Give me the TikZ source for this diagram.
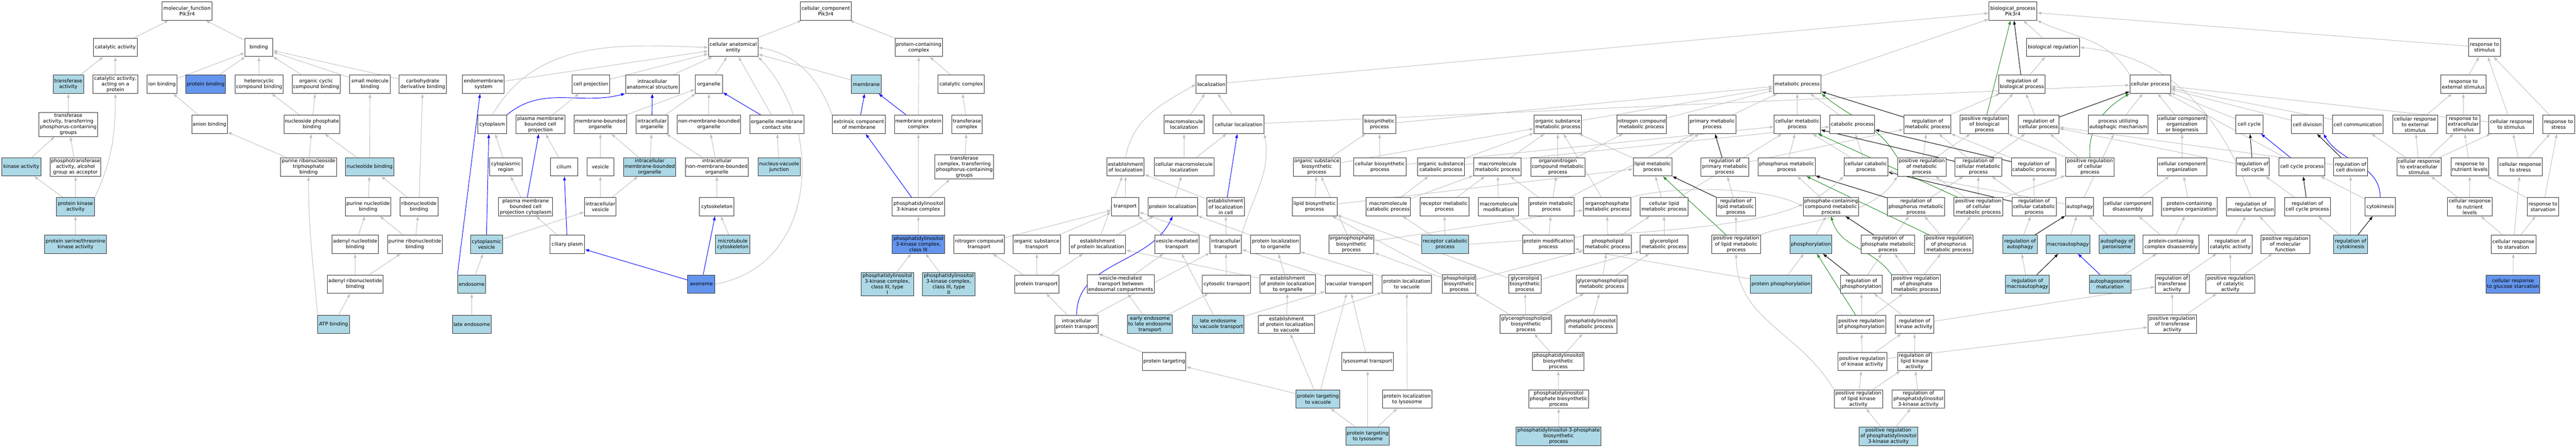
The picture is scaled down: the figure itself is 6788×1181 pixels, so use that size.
\documentclass[tikz,border=0pt]{standalone}
\usepackage{fontspec}
\setmainfont{DejaVu Sans}
\usetikzlibrary{arrows.meta}
\pgfdeclarelayer{edges}
\pgfsetlayers{edges,main}
\definecolor{hitblue}{HTML}{ADD8E6}
\definecolor{seedblue}{HTML}{6495ED}
\definecolor{isagray}{HTML}{C0C0C0}
\definecolor{posgreen}{HTML}{228B22}
\tikzset{
  term/.style={draw=black!80,line width=1.3pt,fill=white,align=center,minimum height=48,inner xsep=2pt,inner ysep=3pt,font=\fontsize{13}{15}\selectfont},
  hit/.style={term,fill=hitblue},
  seed/.style={term,fill=seedblue},
  isa/.style={draw=isagray,line width=1.3pt,-{Latex[length=11pt,width=8pt]}},
  part/.style={isa,draw=blue},
  reg/.style={isa,draw=black},
  posreg/.style={isa,draw=posgreen}
}
\begin{document}
\begin{tikzpicture}[x=1pt,y=-1pt]
		\useasboundingbox (0,0) rectangle (6788,1181);
		%Molecular function
		\node[term,minimum width=131] (mf) at (493,29) {molecular\_function\\Pik3r4};
		\node[term,minimum width=116] (catact) at (304,125) {catalytic activity};
		\node[term,minimum width=73] (bind) at (682,125) {binding};
		\node[hit,minimum width=80] (transf) at (180,222) {transferase\\activity};
		\node[term,minimum width=118] (catprot) at (304,222) {catalytic activity,\\acting on a\\protein};
		\node[term,minimum width=79] (ionb) at (427,222) {ion binding};
		\node[seed,minimum width=105] (protb) at (542,222) {protein binding};
		\node[term,minimum width=126] (hetb) at (683,222) {heterocyclic\\compound binding};
		\node[term,minimum width=126] (orgcb) at (833,222) {organic cyclic\\compound binding};
		\node[term,minimum width=107] (smb) at (975,222) {small molecule\\binding};
		\node[term,minimum width=124] (carbb) at (1114,222) {carbohydrate\\derivative binding};
		\node[term,minimum width=154] (trphos) at (180,328) {transferase\\activity, transferring\\phosphorus-containing\\groups};
		\node[term,minimum width=94] (anionb) at (552,328) {anion binding};
		\node[term,minimum width=147] (nucphb) at (822,328) {nucleoside phosphate\\binding};
		\node[hit,minimum width=103] (kinact) at (56,440) {kinase activity};
		\node[term,minimum width=133] (phtrans) at (199,440) {phosphotransferase\\activity, alcohol\\group as acceptor};
		\node[term,minimum width=147] (prntb) at (813,440) {purine ribonucleoside\\triphosphate\\binding};
		\node[hit,minimum width=127] (nucb) at (974,440) {nucleotide binding};
		\node[hit,minimum width=100] (pkin) at (199,545) {protein kinase\\activity};
		\node[term,minimum width=119] (purnb) at (970,545) {purine nucleotide\\binding};
		\node[term,minimum width=100] (ribnb) at (1104,545) {ribonucleotide\\binding};
		\node[hit,minimum width=163] (pstk) at (199,644) {protein serine/threonine\\kinase activity};
		\node[term,minimum width=123] (adnb) at (936,644) {adenyl nucleotide\\binding};
		\node[term,minimum width=144] (purrnb) at (1093,644) {purine ribonucleotide\\binding};
		\node[term,minimum width=147] (adrnb) at (936,749) {adenyl ribonucleotide\\binding};
		\node[hit,minimum width=83] (atpb) at (879,855) {ATP binding};
		
		%Cellular component
		\node[term,minimum width=135] (cc) at (2176,29) {cellular\_component\\Pik3r4};
		\node[term,minimum width=130] (cae) at (1932,125) {cellular anatomical\\entity};
		\node[term,minimum width=125] (pcc) at (2421,125) {protein-containing\\complex};
		\node[term,minimum width=110] (endo) at (1274,222) {endomembrane\\system};
		\node[term,minimum width=99] (cproj) at (1557,222) {cell projection};
		\node[term,minimum width=141] (ias) at (1719,222) {intracellular\\anatomical structure};
		\node[term,minimum width=72] (organelle) at (1868,222) {organelle};
		\node[hit,minimum width=78] (membrane) at (2283,222) {membrane};
		\node[term,minimum width=122] (catcx) at (2533,222) {catalytic complex};
		\node[term,minimum width=75] (cytopl) at (1297,328) {cytoplasm};
		\node[term,minimum width=128] (pmbcp) at (1424,328) {plasma membrane\\bounded cell\\projection};
		\node[term,minimum width=139] (mbo) at (1582,328) {membrane-bounded\\organelle};
		\node[term,minimum width=84] (iorg) at (1718,328) {intracellular\\organelle};
		\node[term,minimum width=166] (nmbo) at (1868,328) {non-membrane-bounded\\organelle};
		\node[term,minimum width=142] (omcs) at (2047,328) {organelle membrane\\contact site};
		\node[term,minimum width=139] (extm) at (2263,328) {extrinsic component\\of membrane};
		\node[term,minimum width=126] (mpcx) at (2420,328) {membrane protein\\complex};
		\node[term,minimum width=81] (trcx) at (2548,328) {transferase\\complex};
		\node[term,minimum width=85] (cytreg) at (1333,440) {cytoplasmic\\region};
		\node[term,minimum width=72] (cilium) at (1486,440) {cilium};
		\node[term,minimum width=71] (vesicle) at (1582,440) {vesicle};
		\node[hit,minimum width=138] (imbo) at (1712,440) {intracellular\\membrane-bounded\\organelle};
		\node[term,minimum width=166] (inmbo) at (1889,440) {intracellular\\non-membrane-bounded\\organelle};
		\node[hit,minimum width=111] (nvj) at (2053,440) {nucleus-vacuole\\junction};
		\node[term,minimum width=155] (trcxp) at (2541,440) {transferase\\complex, transferring\\phosphorus-containing\\groups};
		\node[term,minimum width=142] (pmbcpc) at (1385,545) {plasma membrane\\bounded cell\\projection cytoplasm};
		\node[term,minimum width=83] (ivesicle) at (1582,545) {intracellular\\vesicle};
		\node[term,minimum width=91] (cytosk) at (1889,545) {cytoskeleton};
		\node[term,minimum width=139] (pi3kcx) at (2420,545) {phosphatidylinositol\\3-kinase complex};
		\node[hit,minimum width=85] (cytves) at (1282,644) {cytoplasmic\\vesicle};
		\node[term,minimum width=91] (cilplasm) at (1495,644) {ciliary plasm};
		\node[hit,minimum width=91] (mtcytosk) at (1931,644) {microtubule\\cytoskeleton};
		\node[seed,minimum width=139] (pi3kc3) at (2420,644) {phosphatidylinositol\\3-kinase complex,\\class III};
		\node[hit,minimum width=74] (endosome) at (1243,749) {endosome};
		\node[seed,minimum width=72] (axoneme) at (1848,749) {axoneme};
		\node[hit,minimum width=139] (pi3kc3a) at (2338,749) {phosphatidylinositol\\3-kinase complex,\\class III, type\\I};
		\node[hit,minimum width=139] (pi3kc3b) at (2500,749) {phosphatidylinositol\\3-kinase complex,\\class III, type\\II};
		\node[hit,minimum width=102] (lateendo) at (1243,855) {late endosome};
		
		%Biological process: top
		\node[term,minimum width=126] (bp) at (5304,29) {biological\_process\\Pik3r4};
		\node[term,minimum width=139] (bioreg) at (5410,125) {biological regulation};
		\node[term,minimum width=83] (rstim) at (6547,125) {response to\\stimulus};
		\node[term,minimum width=80] (loc) at (3192,222) {localization};
		\node[term,minimum width=126] (metab) at (4736,222) {metabolic process};
		\node[term,minimum width=122] (regbp) at (5328,222) {regulation of\\biological process};
		\node[term,minimum width=107] (cellproc) at (5666,222) {cellular process};
		\node[term,minimum width=120] (rext) at (6491,222) {response to\\external stimulus};
		
		%Biological process: row 4
		\node[term,minimum width=106] (mloc) at (3120,328) {macromolecule\\localization};
		\node[term,minimum width=134] (cloc) at (3264,328) {cellular localization};
		\node[term,minimum width=87] (biosyn) at (3635,328) {biosynthetic\\process};
		\node[term,minimum width=125] (osmp) at (4105,328) {organic substance\\metabolic process};
		\node[term,minimum width=131] (ncmp) at (4326,328) {nitrogen compound\\metabolic process};
		\node[term,minimum width=126] (primp) at (4512,328) {primary metabolic\\process};
		\node[term,minimum width=122] (cmp) at (4736,328) {cellular metabolic\\process};
		\node[term,minimum width=118] (catab) at (4881,328) {catabolic process};
		\node[term,minimum width=124] (regmp) at (5079,328) {regulation of\\metabolic process};
		\node[term,minimum width=128] (posregbp) at (5229,328) {positive regulation\\of biological\\process};
		\node[term,minimum width=107] (regcp) at (5372,328) {regulation of\\cellular process};
		\node[term,minimum width=158] (puam) at (5582,328) {process utilizing\\autophagic mechanism};
		\node[term,minimum width=131] (ccob) at (5750,328) {cellular component\\organization\\or biogenesis};
		\node[term,minimum width=72] (ccycle) at (5927,328) {cell cycle};
		\node[term,minimum width=84] (cdiv) at (6080,328) {cell division};
		\node[term,minimum width=134] (ccomm) at (6213,328) {cell communication};
		\node[term,minimum width=118] (crext) at (6364,328) {cellular response\\to external\\stimulus};
		\node[term,minimum width=88] (rexc) at (6491,328) {response to\\extracellular\\stimulus};
		\node[term,minimum width=119] (crstim) at (6617,328) {cellular response\\to stimulus};
		\node[term,minimum width=84] (rstress) at (6742,328) {response to\\stress};
		
		%Biological process: row 5
		\node[term,minimum width=98] (estloc) at (2966,440) {establishment\\of localization};
		\node[term,minimum width=158] (cmloc) at (3120,440) {cellular macromolecule\\localization};
		\node[term,minimum width=124] (osbp) at (3470,440) {organic substance\\biosynthetic\\process};
		\node[term,minimum width=138] (cbp) at (3636,440) {cellular biosynthetic\\process};
		\node[term,minimum width=124] (oscp) at (3797,440) {organic substance\\catabolic process};
		\node[term,minimum width=125] (mmp) at (3946,440) {macromolecule\\metabolic process};
		\node[term,minimum width=143] (oncmp) at (4105,440) {organonitrogen\\compound metabolic\\process};
		\node[term,minimum width=102] (lmp) at (4355,440) {lipid metabolic\\process};
		\node[term,minimum width=126] (regprimp) at (4545,440) {regulation of\\primary metabolic\\process};
		\node[term,minimum width=150] (phosmp) at (4708,440) {phosphorus metabolic\\process};
		\node[term,minimum width=116] (ccatp) at (4917,440) {cellular catabolic\\process};
		\node[term,minimum width=128] (posregmp) at (5064,440) {positive regulation\\of metabolic\\process};
		\node[term,minimum width=123] (regcmp) at (5213,440) {regulation of\\cellular metabolic\\process};
		\node[term,minimum width=118] (regcatp) at (5359,440) {regulation of\\catabolic process};
		\node[term,minimum width=128] (posregcp) at (5507,440) {positive regulation\\of cellular\\process};
		\node[term,minimum width=131] (cco) at (5750,440) {cellular component\\organization};
		\node[term,minimum width=88] (regccycle) at (5936,440) {regulation of\\cell cycle};
		\node[term,minimum width=121] (ccyclep) at (6066,440) {cell cycle process};
		\node[term,minimum width=89] (regcdiv) at (6194,440) {regulation of\\cell division};
		\node[term,minimum width=117] (crexc) at (6374,440) {cellular response\\to extracellular\\stimulus};
		\node[term,minimum width=100] (rnut) at (6508,440) {response to\\nutrient levels};
		\node[term,minimum width=117] (crstress) at (6641,440) {cellular response\\to stress};
		
		%Biological process: row 6
		\node[term,minimum width=72] (transport) at (2965,545) {transport};
		\node[term,minimum width=130] (ploc) at (3090,545) {protein localization};
		\node[term,minimum width=99] (estlocc) at (3230,545) {establishment\\of localization\\in cell};
		\node[term,minimum width=118] (lbp) at (3464,545) {lipid biosynthetic\\process};
		\node[term,minimum width=117] (mcatp) at (3658,545) {macromolecule\\catabolic process};
		\node[term,minimum width=129] (recmp) at (3806,545) {receptor metabolic\\process};
		\node[term,minimum width=106] (mmod) at (3949,545) {macromolecule\\modification};
		\node[term,minimum width=120] (protmp) at (4088,545) {protein metabolic\\process};
		\node[term,minimum width=125] (opmp) at (4235,545) {organophosphate\\metabolic process};
		\node[term,minimum width=125] (clmp) at (4385,545) {cellular lipid\\metabolic process};
		\node[term,minimum width=103] (reglmp) at (4574,545) {regulation of\\lipid metabolic\\process};
		\node[term,minimum width=146] (pcmp) at (4825,545) {phosphate-containing\\compound metabolic\\process};
		\node[term,minimum width=150] (regphosmp) at (5049,545) {regulation of\\phosphorus metabolic\\process};
		\node[term,minimum width=129] (posregcmp) at (5213,545) {positive regulation\\of cellular\\metabolic process};
		\node[term,minimum width=117] (regccatp) at (5360,545) {regulation of\\cellular catabolic\\process};
		\node[term,minimum width=74] (autophagy) at (5480,545) {autophagy};
		\node[term,minimum width=130] (ccdis) at (5607,545) {cellular component\\disassembly};
		\node[term,minimum width=147] (pcxorg) at (5769,545) {protein-containing\\complex organization};
		\node[term,minimum width=128] (regmf) at (5931,545) {regulation of\\molecular function};
		\node[term,minimum width=121] (regccp) at (6080,545) {regulation of\\cell cycle process};
		\node[term,minimum width=79] (cytokin) at (6272,545) {cytokinesis};
		\node[term,minimum width=118] (crnut) at (6508,545) {cellular response\\to nutrient\\levels};
		\node[term,minimum width=83] (rstarv) at (6701,545) {response to\\starvation};
		
		%Biological process: row 7
		\node[term,minimum width=132] (nctr) at (2580,644) {nitrogen compound\\transport};
		\node[term,minimum width=124] (ostr) at (2732,644) {organic substance\\transport};
		\node[term,minimum width=148] (estploc) at (2892,644) {establishment\\of protein localization};
		\node[term,minimum width=117] (vmt) at (3101,644) {vesicle-mediated\\transport};
		\node[term,minimum width=83] (ictr) at (3230,644) {intracellular\\transport};
		\node[term,minimum width=130] (plocorg) at (3361,644) {protein localization\\to organelle};
		\node[term,minimum width=119] (opbp) at (3561,644) {organophosphate\\biosynthetic\\process};
		\node[hit,minimum width=124] (reccatp) at (3808,644) {receptor catabolic\\process};
		\node[term,minimum width=136] (pmodp) at (4080,644) {protein modification\\process};
		\node[term,minimum width=126] (plmp) at (4236,644) {phospholipid\\metabolic process};
		\node[term,minimum width=125] (glmp) at (4385,644) {glycerolipid\\metabolic process};
		\node[term,minimum width=128] (posreglmp) at (4575,644) {positive regulation\\of lipid metabolic\\process};
		\node[hit,minimum width=110] (phosph) at (4772,644) {phosphorylation};
		\node[term,minimum width=142] (regphmp) at (4975,644) {regulation of\\phosphate metabolic\\process};
		\node[term,minimum width=128] (posregphosmp) at (5135,644) {positive regulation\\of phosphorus\\metabolic process};
		\node[hit,minimum width=90] (regaut) at (5323,644) {regulation of\\autophagy};
		\node[hit,minimum width=116] (macroaut) at (5449,644) {macroautophagy};
		\node[hit,minimum width=93] (autperox) at (5578,644) {autophagy of\\peroxisome};
		\node[term,minimum width=147] (pcxdis) at (5721,644) {protein-containing\\complex disassembly};
		\node[term,minimum width=115] (regcatact) at (5877,644) {regulation of\\catalytic activity};
		\node[term,minimum width=129] (posregmf) at (6022,644) {positive regulation\\of molecular\\function};
		\node[hit,minimum width=89] (regcytok) at (6194,644) {regulation of\\cytokinesis};
		\node[term,minimum width=118] (crstarv) at (6623,644) {cellular response\\to starvation};
		
		%Biological process: row 8
		\node[term,minimum width=116] (prtr) at (2732,749) {protein transport};
		\node[term,minimum width=177] (vmtendo) at (2953,749) {vesicle-mediated\\transport between\\endosomal compartments};
		\node[term,minimum width=127] (cytotr) at (3232,749) {cytosolic transport};
		\node[term,minimum width=147] (estplocorg) at (3393,749) {establishment\\of protein localization\\to organelle};
		\node[term,minimum width=125] (vactr) at (3555,749) {vacuolar transport};
		\node[term,minimum width=130] (plocvac) at (3707,749) {protein localization\\to vacuole};
		\node[term,minimum width=88] (plbp) at (3845,749) {phospholipid\\biosynthetic\\process};
		\node[term,minimum width=86] (glbp) at (4018,749) {glycerolipid\\biosynthetic\\process};
		\node[term,minimum width=136] (gplmp) at (4221,749) {glycerophospholipid\\metabolic process};
		\node[hit,minimum width=162] (protphos) at (4693,749) {protein phosphorylation};
		\node[term,minimum width=111] (regphos) at (4905,749) {regulation of\\phosphorylation};
		\node[term,minimum width=128] (posregphmp) at (5049,749) {positive regulation\\of phosphate\\metabolic process};
		\node[hit,minimum width=115] (regmacro) at (5342,749) {regulation of\\macroautophagy};
		\node[hit,minimum width=110] (autmat) at (5560,749) {autophagosome\\maturation};
		\node[term,minimum width=89] (regtrans) at (5724,749) {regulation of\\transferase\\activity};
		\node[term,minimum width=128] (posregcatact) at (5877,749) {positive regulation\\of catalytic\\activity};
		\node[seed,minimum width=141] (crglu) at (6622,749) {cellular response\\to glucose starvation};
		
		%Biological process: rows 9-12
		\node[term,minimum width=114] (icptr) at (2837,855) {intracellular\\protein transport};
		\node[hit,minimum width=119] (eelet) at (3030,855) {early endosome\\to late endosome\\transport};
		\node[hit,minimum width=137] (letvt) at (3210,855) {late endosome\\to vacuole transport};
		\node[term,minimum width=147] (estplocvac) at (3390,855) {establishment\\of protein localization\\to vacuole};
		\node[term,minimum width=136] (gplbp) at (4021,855) {glycerophospholipid\\biosynthetic\\process};
		\node[term,minimum width=138] (pimp) at (4192,855) {phosphatidylinositol\\metabolic process};
		\node[term,minimum width=129] (posregphos) at (4905,855) {positive regulation\\of phosphorylation};
		\node[term,minimum width=102] (regkin) at (5045,855) {regulation of\\kinase activity};
		\node[term,minimum width=128] (posregtrans) at (5724,855) {positive regulation\\of transferase\\activity};
		\node[term,minimum width=114] (ptarg) at (3068,953) {protein targeting};
		\node[term,minimum width=136] (lystr) at (3604,953) {lysosomal transport};
		\node[term,minimum width=137] (pibp) at (4106,953) {phosphatidylinositol\\biosynthetic\\process};
		\node[term,minimum width=129] (posregkin) at (4907,953) {positive regulation\\of kinase activity};
		\node[term,minimum width=90] (reglkin) at (5045,953) {regulation of\\lipid kinase\\activity};
		\node[hit,minimum width=115] (ptargvac) at (3473,1052) {protein targeting\\to vacuole};
		\node[term,minimum width=131] (ploclys) at (3708,1052) {protein localization\\to lysosome};
		\node[term,minimum width=158] (pipbp) at (4107,1052) {phosphatidylinositol\\phosphate biosynthetic\\process};
		\node[term,minimum width=128] (posreglkin) at (4897,1052) {positive regulation\\of lipid kinase\\activity};
		\node[term,minimum width=139] (regpi3k) at (5055,1052) {regulation of\\phosphatidylinositol\\3-kinase activity};
		\node[hit,minimum width=114] (ptarglys) at (3604,1150) {protein targeting\\to lysosome};
		\node[hit,minimum width=224] (pi3pbp) at (4107,1150) {phosphatidylinositol-3-phosphate\\biosynthetic\\process};
		\node[hit,minimum width=155] (posregpi3k) at (4976,1150) {positive regulation\\of phosphatidylinositol\\3-kinase activity};
		
		\begin{pgfonlayer}{edges}
		\fill[white] (0,0) rectangle (6788,1181);
		%Molecular function edges
		\draw[isa] (catact) -- (mf);
		\draw[isa] (bind) -- (mf);
		\draw[isa] (transf) -- (catact);
		\draw[isa] (catprot) -- (catact);
		\draw[isa] (ionb) -- (bind);
		\draw[isa] (protb) -- (bind);
		\draw[isa] (hetb) -- (bind);
		\draw[isa] (orgcb) -- (bind);
		\draw[isa] (smb) -- (bind);
		\draw[isa] (carbb) -- (bind);
		\draw[isa] (trphos) -- (transf);
		\draw[isa] (anionb) -- (ionb);
		\draw[isa] (nucphb) -- (hetb);
		\draw[isa] (nucphb) -- (orgcb);
		\draw[isa] (kinact) -- (trphos);
		\draw[isa] (phtrans) -- (trphos);
		\draw[isa] (prntb) -- (anionb);
		\draw[isa] (prntb) -- (nucphb);
		\draw[isa] (nucb) -- (nucphb);
		\draw[isa] (nucb) -- (smb);
		\draw[isa] (pkin) -- (kinact);
		\draw[isa] (pkin) -- (phtrans);
		\draw[isa] (pkin.north east) to [out=65, in=270] (catprot.south);
		\draw[isa] (purnb) -- (nucb);
		\draw[isa] (ribnb) -- (nucb);
		\draw[isa] (ribnb) -- (carbb);
		\draw[isa] (pstk) -- (pkin);
		\draw[isa] (adnb) -- (purnb);
		\draw[isa] (purrnb) -- (purnb);
		\draw[isa] (purrnb) -- (ribnb);
		\draw[isa] (adrnb) -- (adnb);
		\draw[isa] (adrnb) -- (purrnb);
		\draw[isa] (atpb) -- (adrnb);
		\draw[isa] (atpb.north west) to [out=95, in=270] (prntb.south);
		
		%Cellular component edges
		\draw[isa] (cae) -- (cc);
		\draw[isa] (pcc) -- (cc);
		\draw[isa] (endo) -- (cae);
		\draw[isa] (cytopl.north) to [out=60, in=178] (cae.west);
		\draw[isa] (cproj) -- (cae);
		\draw[isa] (ias) -- (cae);
		\draw[isa] (organelle) -- (cae);
		\draw[isa] (omcs) -- (cae);
		\draw[isa] (membrane) -- (cae);
		\draw[isa] (extm.north west) to [out=110, in=-10] (cae.east);
		\draw[isa] (axoneme.east) .. controls (2160,700) and (2170,330) .. (cae.south east);
		\draw[isa] (catcx) -- (pcc);
		\draw[isa] (mpcx) -- (pcc);
		\draw[part] (mpcx) -- (membrane);
		\draw[part] (extm) -- (membrane);
		\draw[isa] (trcx) -- (catcx);
		\draw[isa] (trcxp) -- (trcx);
		\draw[part] (pi3kcx) -- (extm);
		\draw[isa] (pi3kcx) -- (mpcx);
		\draw[isa] (pi3kcx) -- (trcxp);
		\draw[isa] (pi3kc3) -- (pi3kcx);
		\draw[isa] (pi3kc3a) -- (pi3kc3);
		\draw[isa] (pi3kc3b) -- (pi3kc3);
		\draw[part] (cytopl.north east) to [out=40, in=195] (ias.south west);
		\draw[isa] (pmbcp) -- (cproj);
		\draw[isa] (mbo) -- (organelle);
		\draw[part] (iorg) -- (ias);
		\draw[isa] (iorg) -- (organelle);
		\draw[isa] (nmbo) -- (organelle);
		\draw[part] (omcs) -- (organelle);
		\draw[isa] (cytreg) -- (cytopl);
		\draw[isa] (cilium) -- (pmbcp);
		\draw[isa] (vesicle) -- (mbo);
		\draw[isa] (imbo) -- (mbo);
		\draw[isa] (imbo) -- (iorg);
		\draw[isa] (inmbo) -- (iorg);
		\draw[isa] (inmbo) -- (nmbo);
		\draw[isa] (nvj) -- (omcs);
		\draw[isa] (pmbcpc) -- (cytreg);
		\draw[part] (pmbcpc) -- (pmbcp);
		\draw[isa] (ivesicle) -- (vesicle);
		\draw[isa] (ivesicle) -- (imbo);
		\draw[isa] (cytosk) -- (inmbo);
		\draw[part] (cytves.north) -- (cytopl.250);
		\draw[isa] (cytves) -- (ivesicle);
		\draw[isa] (cilplasm) -- (pmbcpc);
		\draw[part] (cilplasm) -- (cilium);
		\draw[isa] (mtcytosk) -- (cytosk);
		\draw[part] (endosome.north west) -- (endo.250);
		\draw[isa] (endosome) -- (cytves);
		\draw[part] (axoneme) -- (cilplasm);
		\draw[part] (axoneme) -- (cytosk);
		\draw[isa] (lateendo) -- (endosome);
		
		%Localization and transport edges
		\draw[isa] (loc) -- (bp);
		\draw[isa] (mloc) -- (loc);
		\draw[isa] (cloc) -- (loc);
		\draw[isa] (cloc) -- (cellproc);
		\draw[isa] (estloc.north) to [out=80, in=210] (loc.west);
		\draw[isa] (cmloc) -- (mloc);
		\draw[isa] (cmloc) -- (cloc);
		\draw[part] (estlocc) -- (cloc);
		\draw[isa] (estlocc) -- (estloc);
		\draw[isa] (transport) -- (estloc);
		\draw[isa] (ploc) -- (cmloc);
		\draw[isa] (estploc) -- (estloc);
		\draw[isa] (estploc) -- (ploc);
		\draw[isa] (nctr) -- (transport);
		\draw[isa] (ostr) -- (transport);
		\draw[isa] (vmt) -- (transport);
		\draw[isa] (ictr) -- (transport);
		\draw[isa] (ictr) -- (estlocc);
		\draw[isa] (ictr.north east) to [out=75, in=-80] (cloc.south east);
		\draw[isa] (plocorg) -- (ploc);
		\draw[isa] (estplocorg) -- (estploc);
		\draw[isa] (estplocorg) -- (plocorg);
		\draw[isa] (vmtendo) -- (vmt);
		\draw[isa] (prtr) -- (nctr);
		\draw[isa] (prtr) -- (ostr);
		\draw[isa] (prtr) -- (estploc);
		\draw[isa] (cytotr) -- (ictr);
		\draw[isa] (vactr) -- (ictr);
		\draw[isa] (plocvac) -- (plocorg);
		\draw[isa] (icptr) -- (prtr);
		\draw[part] (icptr.north) to [out=90, in=-115] (ploc.south);
		\draw[isa] (icptr) -- (ictr);
		\draw[isa] (eelet) -- (vmtendo);
		\draw[isa] (eelet) -- (cytotr);
		\draw[isa] (letvt) -- (vmt);
		\draw[isa] (letvt) -- (vactr);
		\draw[isa] (estplocvac) -- (estplocorg);
		\draw[isa] (estplocvac) -- (plocvac);
		\draw[isa] (ptarg) -- (icptr);
		\draw[isa] (ptargvac) -- (ptarg);
		\draw[isa] (ptargvac) -- (estplocvac);
		\draw[isa] (ptargvac) -- (vactr);
		\draw[isa] (lystr) -- (vactr);
		\draw[isa] (ploclys) -- (plocvac);
		\draw[isa] (ptarglys) -- (ptargvac);
		\draw[isa] (ptarglys) -- (lystr);
		\draw[isa] (ptarglys) -- (ploclys);
		
		%Metabolism edges
		\draw[isa] (biosyn) -- (metab);
		\draw[isa] (osmp) -- (metab);
		\draw[isa] (ncmp) -- (metab);
		\draw[isa] (primp) -- (metab);
		\draw[isa] (cmp) -- (metab);
		\draw[isa] (catab) -- (metab);
		\draw[isa] (metab) -- (bp);
		\draw[isa] (osbp) -- (biosyn);
		\draw[isa] (osbp) -- (osmp);
		\draw[isa] (cbp) -- (biosyn);
		\draw[isa] (cbp) -- (cmp);
		\draw[isa] (oscp) -- (osmp);
		\draw[isa] (oscp) -- (catab);
		\draw[isa] (mmp) -- (osmp);
		\draw[isa] (oncmp) -- (osmp);
		\draw[isa] (oncmp) -- (ncmp);
		\draw[isa] (lmp) -- (osmp);
		\draw[isa] (lmp) -- (primp);
		\draw[reg] (regprimp) -- (primp);
		\draw[isa] (regprimp) -- (regmp);
		\draw[isa] (lbp) -- (osbp);
		\draw[isa] (lbp) -- (lmp);
		\draw[isa] (mcatp) -- (oscp);
		\draw[isa] (mcatp) -- (mmp);
		\draw[isa] (recmp) -- (mmp);
		\draw[isa] (mmod) -- (mmp);
		\draw[isa] (protmp) -- (mmp);
		\draw[isa] (protmp) -- (oncmp);
		\draw[isa] (protmp) -- (primp);
		\draw[isa] (opmp) -- (osmp);
		\draw[isa] (opmp.north east) .. controls (4400,490) and (4650,490) .. (pcmp.west);
		\draw[isa] (clmp) -- (lmp);
		\draw[isa] (clmp) -- (cmp);
		\draw[reg] (reglmp) -- (lmp);
		\draw[isa] (reglmp) -- (regprimp);
		\draw[posreg] (posreglmp) -- (lmp);
		\draw[isa] (posreglmp) -- (reglmp);
		\draw[isa] (posreglmp.north east) .. controls (4700,590) and (4930,580) .. (posregmp.south west);
		\draw[isa] (phosmp) -- (cmp);
		\draw[isa] (ccatp) -- (catab);
		\draw[isa] (ccatp) -- (cmp);
		\draw[posreg] (posregmp.north west) to [out=120, in=-40] (metab.south east);
		\draw[isa] (posregmp) -- (regmp);
		\draw[isa] (posregmp) -- (posregbp);
		\draw[reg] (regcmp) -- (cmp);
		\draw[isa] (regcmp) -- (regmp);
		\draw[isa] (regcmp) -- (regcp);
		\draw[reg] (regcatp) -- (catab);
		\draw[isa] (regcatp) -- (regmp);
		\draw[posreg] (posregcp.north) to [out=95, in=-150] (cellproc.south west);
		\draw[isa] (posregcp) -- (regcp);
		\draw[isa] (posregcp) -- (posregbp);
		\draw[isa] (pcmp) -- (phosmp);
		\draw[reg] (regphosmp) -- (phosmp);
		\draw[isa] (regphosmp) -- (regcmp);
		\draw[posreg] (posregcmp) -- (cmp);
		\draw[isa] (posregcmp) -- (regcmp);
		\draw[isa] (posregcmp) -- (posregmp);
		\draw[isa] (posregcmp) -- (posregcp);
		\draw[isa] (regccatp) -- (regcatp);
		\draw[isa] (regccatp) -- (regcmp);
		\draw[reg] (regccatp) -- (ccatp);
		\draw[isa] (autophagy) -- (ccatp);
		\draw[isa] (autophagy) -- (puam);
		\draw[reg] (regmp) -- (metab);
		\draw[isa] (regmp) -- (regbp);
		\draw[reg] (regcp) -- (cellproc);
		\draw[isa] (regcp) -- (regbp);
		\draw[posreg] (posregbp) -- (bp);
		\draw[isa] (posregbp) -- (regbp);
		\draw[reg] (regbp) -- (bp);
		\draw[isa] (regbp) -- (bioreg);
		\draw[isa] (bioreg) -- (bp);
		\draw[isa] (cellproc.north west) to [out=120, in=-25] (bp.south east);
		\draw[isa] (puam) -- (cellproc);
		\draw[isa] (rstim) -- (bp);
		
		%Lipid edges
		\draw[isa] (pmodp) -- (mmod);
		\draw[isa] (pmodp) -- (protmp);
		\draw[isa] (plmp) -- (opmp);
		\draw[isa] (plmp) -- (clmp);
		\draw[isa] (glmp) -- (clmp);
		\draw[isa] (opbp) -- (opmp);
		\draw[isa] (opbp) -- (osbp);
		\draw[isa] (reccatp) -- (recmp);
		\draw[isa] (reccatp) -- (mcatp);
		\draw[isa] (reccatp.east) .. controls (4500,600) and (4720,600) .. (ccatp.south west);
		\draw[isa] (plbp) -- (plmp);
		\draw[isa] (plbp) -- (opbp);
		\draw[isa] (plbp) -- (lbp);
		\draw[isa] (glbp) -- (glmp);
		\draw[isa] (glbp) -- (lbp);
		\draw[isa] (gplmp) -- (plmp);
		\draw[isa] (gplmp) -- (glmp);
		\draw[isa] (gplbp) -- (plbp);
		\draw[isa] (gplbp) -- (glbp);
		\draw[isa] (gplbp) -- (gplmp);
		\draw[isa] (pimp) -- (gplmp);
		\draw[isa] (pibp) -- (gplbp);
		\draw[isa] (pibp) -- (pimp);
		\draw[isa] (pipbp) -- (pibp);
		\draw[isa] (pi3pbp) -- (pipbp);
		
		%Phosphorylation and kinase edges
		\draw[isa] (phosph) -- (pcmp);
		\draw[reg] (regphmp) -- (pcmp);
		\draw[isa] (regphmp) -- (regphosmp);
		\draw[posreg] (posregphosmp) -- (phosmp);
		\draw[isa] (posregphosmp) -- (regphosmp);
		\draw[isa] (posregphosmp) -- (posregcmp);
		\draw[isa] (protphos) -- (phosph);
		\draw[isa] (protphos) -- (pmodp);
		\draw[reg] (regphos) -- (phosph);
		\draw[isa] (regphos) -- (regphmp);
		\draw[posreg] (posregphmp.north west) to [out=125, in=-75] (pcmp.south);
		\draw[isa] (posregphmp) -- (regphmp);
		\draw[isa] (posregphmp) -- (posregphosmp);
		\draw[posreg] (posregphos) -- (phosph);
		\draw[isa] (posregphos) -- (regphos);
		\draw[isa] (posregphos) -- (posregphmp);
		\draw[isa] (regkin) -- (regphos);
		\draw[isa] (regkin) -- (regtrans);
		\draw[isa] (posregkin) -- (posregphos);
		\draw[isa] (posregkin) -- (regkin);
		\draw[isa] (posregkin) -- (posregtrans);
		\draw[isa] (reglkin) -- (regkin);
		\draw[isa] (posreglkin) -- (posregkin);
		\draw[isa] (posreglkin) -- (reglkin);
		\draw[isa] (posreglkin.north west) to [out=120, in=-90] (posreglmp.south);
		\draw[isa] (regpi3k) -- (reglkin);
		\draw[isa] (posregpi3k) -- (posreglkin);
		\draw[isa] (posregpi3k) -- (regpi3k);
		
		%Autophagy, organization, molecular function regulation
		\draw[isa] (regaut) -- (regccatp);
		\draw[reg] (regaut) -- (autophagy);
		\draw[isa] (macroaut) -- (autophagy);
		\draw[isa] (autperox) -- (autophagy);
		\draw[isa] (regmacro) -- (regaut);
		\draw[reg] (regmacro) -- (macroaut);
		\draw[part] (autmat) -- (macroaut);
		\draw[isa] (autmat) -- (pcxdis);
		\draw[isa] (ccdis) -- (cco);
		\draw[isa] (pcxdis) -- (ccdis);
		\draw[isa] (pcxdis) -- (pcxorg);
		\draw[isa] (pcxorg) -- (cco);
		\draw[isa] (cco) -- (ccob);
		\draw[isa] (ccob) -- (cellproc);
		\draw[isa] (regcatact) -- (regmf);
		\draw[isa] (posregmf) -- (regmf);
		\draw[isa] (regmf.north) to [out=110, in=-5] (bioreg.east);
		\draw[isa] (regtrans) -- (regcatact);
		\draw[isa] (posregcatact) -- (regcatact);
		\draw[isa] (posregcatact) -- (posregmf);
		\draw[isa] (posregtrans) -- (regtrans);
		\draw[isa] (posregtrans) -- (posregcatact);
		
		%Cell cycle and response edges
		\draw[isa] (ccycle) -- (cellproc);
		\draw[isa] (cdiv) -- (cellproc);
		\draw[isa] (ccomm) -- (cellproc);
		\draw[isa] (crstim) -- (cellproc);
		\draw[isa] (crstim) -- (rstim);
		\draw[isa] (rstress) -- (rstim);
		\draw[isa] (rext) -- (rstim);
		\draw[isa] (crext) -- (rext);
		\draw[isa] (rexc) -- (rext);
		\draw[reg] (regccycle) -- (ccycle);
		\draw[isa] (regccycle) -- (regcp);
		\draw[part] (ccyclep) -- (ccycle);
		\draw[isa] (ccyclep) -- (cellproc);
		\draw[reg] (regcdiv) -- (cdiv);
		\draw[isa] (regcdiv) -- (regcp);
		\draw[part] (cytokin.north) to [out=90, in=-60] (cdiv.south east);
		\draw[isa] (cytokin) -- (ccyclep);
		\draw[isa] (crexc) -- (ccomm);
		\draw[isa] (crexc) -- (crext);
		\draw[isa] (crexc) -- (rexc);
		\draw[isa] (crexc) -- (crstim);
		\draw[isa] (rnut) -- (rexc);
		\draw[isa] (crstress) -- (crstim);
		\draw[isa] (crstress) -- (rstress);
		\draw[isa] (regccp) -- (regccycle);
		\draw[reg] (regccp) -- (ccyclep);
		\draw[isa] (crnut) -- (crexc);
		\draw[isa] (crnut) -- (rnut);
		\draw[isa] (rstarv) -- (rnut);
		\draw[isa] (rstarv) -- (rstress);
		\draw[isa] (regcytok) -- (regccp);
		\draw[isa] (regcytok) -- (regcdiv);
		\draw[reg] (regcytok) -- (cytokin);
		\draw[isa] (crstarv) -- (crnut);
		\draw[isa] (crstarv) -- (crstress);
		\draw[isa] (crstarv) -- (rstarv);
		\draw[isa] (crglu) -- (crstarv);
		\end{pgfonlayer}
	\end{tikzpicture}
\end{document}
